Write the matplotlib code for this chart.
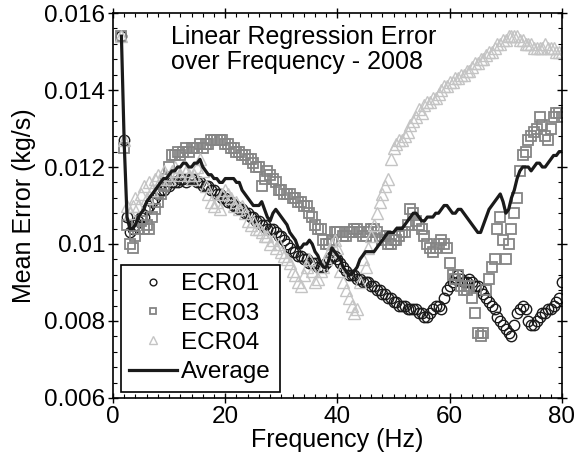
import matplotlib
matplotlib.use('Agg')
import matplotlib.pyplot as plt
import numpy as np
from matplotlib.ticker import MultipleLocator, FixedLocator

plt.rcParams['font.family'] = ['Liberation Sans', 'DejaVu Sans']

# frequency grid of the analysis (0.5 Hz steps)
freq = np.arange(1.5, 80.01, 0.5)

ecr01 = [
    0.0154, 0.0127, 0.0107, 0.0103, 0.0104, 0.0105, 0.0106, 0.0107, 0.0107, 0.0109,
    0.0110, 0.0111, 0.0112, 0.0113, 0.0114, 0.0114, 0.0115, 0.0115, 0.0116, 0.0116,
    0.0116, 0.0117, 0.0117, 0.0116, 0.0117, 0.0117, 0.0117, 0.0116, 0.0116, 0.0115,
    0.0115, 0.0115, 0.0114, 0.0114, 0.0113, 0.0113, 0.0112, 0.0112, 0.0111, 0.0111,
    0.0110, 0.0110, 0.0109, 0.0109, 0.0108, 0.0108, 0.0107, 0.0107, 0.0106, 0.0106,
    0.0105, 0.0105, 0.0104, 0.0104, 0.0104, 0.0103, 0.0102, 0.0102, 0.0101, 0.0100,
    0.0099, 0.0098, 0.0098, 0.0097, 0.0097, 0.0096, 0.0096, 0.0095, 0.0095, 0.0095,
    0.0094, 0.0094, 0.0094, 0.0095, 0.0096, 0.0097, 0.0097, 0.0096, 0.0095, 0.0094,
    0.0093, 0.0092, 0.0092, 0.0092, 0.0091, 0.0091, 0.0090, 0.0090, 0.0090, 0.0089,
    0.0089, 0.0088, 0.0088, 0.0087, 0.0087, 0.0086, 0.0086, 0.0085, 0.0085, 0.0084,
    0.0084, 0.0084, 0.0083, 0.0083, 0.0083, 0.0083, 0.0082, 0.0082, 0.0081, 0.0081,
    0.0082, 0.0083, 0.0084, 0.0084, 0.0083, 0.0086, 0.0088, 0.0089, 0.0090, 0.0091,
    0.0092, 0.0091, 0.0090, 0.0090, 0.0091, 0.0090, 0.0089, 0.0089, 0.0088, 0.0087,
    0.0086, 0.0085, 0.0084, 0.0083, 0.0081, 0.0080, 0.0079, 0.0078, 0.0077, 0.0076,
    0.0079, 0.0082, 0.0083, 0.0084, 0.0083, 0.0080, 0.0079, 0.0079, 0.0080, 0.0081,
    0.0082, 0.0082, 0.0083, 0.0083, 0.0084, 0.0085, 0.0086, 0.0090]

ecr03 = [
    0.0154, 0.0125, 0.0105, 0.0100, 0.0099, 0.0102, 0.0104, 0.0106, 0.0104, 0.0105,
    0.0104, 0.0107, 0.0109, 0.0111, 0.0113, 0.0115, 0.0117, 0.0120, 0.0123, 0.0123,
    0.0124, 0.0123, 0.0124, 0.0125, 0.0124, 0.0125, 0.0125, 0.0125, 0.0126, 0.0125,
    0.0126, 0.0126, 0.0127, 0.0127, 0.0127, 0.0127, 0.0127, 0.0126, 0.0126, 0.0125,
    0.0125, 0.0124, 0.0124, 0.0123, 0.0123, 0.0122, 0.0122, 0.0121, 0.0120, 0.0120,
    0.0115, 0.0117, 0.0119, 0.0118, 0.0117, 0.0116, 0.0114, 0.0114, 0.0113, 0.0113,
    0.0113, 0.0112, 0.0112, 0.0111, 0.0111, 0.0110, 0.0110, 0.0108, 0.0107, 0.0105,
    0.0104, 0.0104, 0.0101, 0.0100, 0.0100, 0.0101, 0.0103, 0.0103, 0.0103, 0.0102,
    0.0102, 0.0103, 0.0103, 0.0104, 0.0104, 0.0103, 0.0102, 0.0102, 0.0103, 0.0104,
    0.0104, 0.0103, 0.0102, 0.0101, 0.0102, 0.0100, 0.0100, 0.0101, 0.0101, 0.0102,
    0.0103, 0.0103, 0.0105, 0.0109, 0.0108, 0.0106, 0.0105, 0.0104, 0.0102, 0.0100,
    0.0099, 0.0098, 0.0099, 0.0100, 0.0101, 0.0100, 0.0099, 0.0095, 0.0092, 0.0091,
    0.0092, 0.0089, 0.0088, 0.0088, 0.0089, 0.0086, 0.0082, 0.0077, 0.0076, 0.0077,
    0.0088, 0.0091, 0.0094, 0.0096, 0.0104, 0.0107, 0.0101, 0.0096, 0.0100, 0.0104,
    0.0108, 0.0112, 0.0119, 0.0123, 0.0124, 0.0127, 0.0128, 0.0129, 0.0130, 0.0133,
    0.0131, 0.0128, 0.0127, 0.0130, 0.0133, 0.0134, 0.0134, 0.0133]

ecr04 = [
    0.0154, 0.0127, 0.0110, 0.0108, 0.0110, 0.0112, 0.0110, 0.0113, 0.0115, 0.0112,
    0.0116, 0.0114, 0.0117, 0.0118, 0.0117, 0.0119, 0.0118, 0.0117, 0.0119, 0.0120,
    0.0119, 0.0118, 0.0120, 0.0119, 0.0118, 0.0117, 0.0118, 0.0120, 0.0122, 0.0119,
    0.0115, 0.0113, 0.0111, 0.0110, 0.0111, 0.0109, 0.0113, 0.0114, 0.0113, 0.0112,
    0.0110, 0.0111, 0.0109, 0.0110, 0.0108, 0.0106, 0.0105, 0.0106, 0.0104, 0.0104,
    0.0103, 0.0102, 0.0102, 0.0100, 0.0101, 0.0099, 0.0100, 0.0098, 0.0097, 0.0096,
    0.0095, 0.0093, 0.0092, 0.0090, 0.0089, 0.0092, 0.0094, 0.0096, 0.0093, 0.0090,
    0.0091, 0.0093, 0.0094, 0.0096, 0.0098, 0.0100, 0.0101, 0.0099, 0.0093, 0.0090,
    0.0088, 0.0086, 0.0084, 0.0082, 0.0083, 0.0090, 0.0096, 0.0094, 0.0099, 0.0102,
    0.0105, 0.0108, 0.0111, 0.0113, 0.0115, 0.0117, 0.0122, 0.0125, 0.0126, 0.0127,
    0.0127, 0.0128, 0.0129, 0.0131, 0.0132, 0.0133, 0.0135, 0.0134, 0.0136, 0.0137,
    0.0137, 0.0138, 0.0138, 0.0139, 0.0140, 0.0141, 0.0141, 0.0142, 0.0142, 0.0143,
    0.0143, 0.0144, 0.0144, 0.0145, 0.0145, 0.0146, 0.0147, 0.0147, 0.0148, 0.0148,
    0.0149, 0.0150, 0.0150, 0.0151, 0.0152, 0.0152, 0.0153, 0.0153, 0.0154, 0.0154,
    0.0154, 0.0154, 0.0153, 0.0153, 0.0152, 0.0152, 0.0152, 0.0151, 0.0151, 0.0151,
    0.0151, 0.0152, 0.0151, 0.0151, 0.0151, 0.0150, 0.0150, 0.0150]

average = [
    0.0154, 0.0126, 0.0107, 0.0104, 0.0104, 0.0105, 0.0107, 0.0108, 0.0109, 0.0111,
    0.0112, 0.0113, 0.0114, 0.0115, 0.0116, 0.0117, 0.0117, 0.0118, 0.0119, 0.0119,
    0.0120, 0.0120, 0.0121, 0.0121, 0.0120, 0.0120, 0.0121, 0.0121, 0.0122, 0.0120,
    0.0119, 0.0118, 0.0118, 0.0117, 0.0117, 0.0116, 0.0116, 0.0117, 0.0117, 0.0117,
    0.0117, 0.0116, 0.0116, 0.0114, 0.0113, 0.0112, 0.0111, 0.0110, 0.0110, 0.0110,
    0.0111, 0.0109, 0.0107, 0.0106, 0.0108, 0.0109, 0.0108, 0.0107, 0.0106, 0.0105,
    0.0103, 0.0102, 0.0101, 0.0099, 0.0099, 0.0100, 0.0100, 0.0101, 0.0100, 0.0098,
    0.0097, 0.0095, 0.0094, 0.0094, 0.0096, 0.0099, 0.0098, 0.0097, 0.0096, 0.0094,
    0.0093, 0.0092, 0.0092, 0.0093, 0.0094, 0.0096, 0.0097, 0.0098, 0.0098, 0.0098,
    0.0098, 0.0099, 0.0100, 0.0101, 0.0102, 0.0103, 0.0103, 0.0103, 0.0104, 0.0104,
    0.0104, 0.0105, 0.0106, 0.0107, 0.0108, 0.0108, 0.0107, 0.0106, 0.0106, 0.0107,
    0.0107, 0.0107, 0.0108, 0.0108, 0.0109, 0.0110, 0.0110, 0.0109, 0.0108, 0.0108,
    0.0109, 0.0109, 0.0108, 0.0107, 0.0106, 0.0105, 0.0104, 0.0103, 0.0103, 0.0105,
    0.0107, 0.0109, 0.0110, 0.0111, 0.0112, 0.0113, 0.0111, 0.0108, 0.0109, 0.0112,
    0.0114, 0.0117, 0.0119, 0.0120, 0.0120, 0.0120, 0.0119, 0.0120, 0.0121, 0.0121,
    0.0120, 0.0120, 0.0121, 0.0122, 0.0123, 0.0123, 0.0124, 0.0124]

yticks = [0.006, 0.008, 0.010, 0.012, 0.014, 0.016]
ytick_labels = ['0.006', '0.008', '0.01', '0.012', '0.014', '0.016']
xticks = [0, 20, 40, 60, 80]

fig = plt.figure(figsize=(5.78, 4.66), dpi=100)
ax = fig.add_axes([0.1955, 0.146, 0.7768, 0.826])

ax.plot(freq, ecr01, linestyle='none', marker='o', markersize=7.5, mfc='none',
        mec='#1a1a1a', mew=1.0, label='ECR01')
ax.plot(freq, ecr03, linestyle='none', marker='s', markersize=6.5, mfc='none',
        mec='#858585', mew=1.3, label='ECR03')
ax.plot(freq, ecr04, linestyle='none', marker='^', markersize=8, mfc='none',
        mec='#c4c4c4', mew=1.0, label='ECR04')
ax.plot(freq, average, color='#1a1a1a', linewidth=2.3, label='Average')

ax.set_xlim(0, 80)
ax.set_ylim(0.006, 0.016)
ax.xaxis.set_major_locator(FixedLocator(xticks))
ax.xaxis.set_minor_locator(MultipleLocator(2))
ax.set_yticks(yticks)
ax.set_yticklabels(ytick_labels)
ax.yaxis.set_minor_locator(MultipleLocator(0.0004))
ax.tick_params(which='major', direction='inout', length=7, width=1,
               top=True, right=True, labelsize=17.5, pad=2)
ax.tick_params(which='minor', direction='in', length=3, width=0.8,
               top=True, right=True)
for s in ax.spines.values():
    s.set_linewidth(1.2)

ax.set_xlabel('Frequency (Hz)', fontsize=18, labelpad=0)
ax.set_ylabel('Mean Error (kg/s)', fontsize=18, labelpad=6)

ax.text(0.13, 0.968, 'Linear Regression Error\nover Frequency - 2008',
        transform=ax.transAxes, ha='left', va='top', fontsize=18, linespacing=1.05)

leg = ax.legend(loc='lower left', bbox_to_anchor=(0.017, 0.016), borderaxespad=0,
                fontsize=17.5, fancybox=False, framealpha=1, edgecolor='black',
                handlelength=1.95, handletextpad=0.2, labelspacing=0.3,
                borderpad=0.35, numpoints=1, markerscale=0.65)
leg.get_frame().set_linewidth(1.2)

fig.savefig('out.png', dpi=100)
